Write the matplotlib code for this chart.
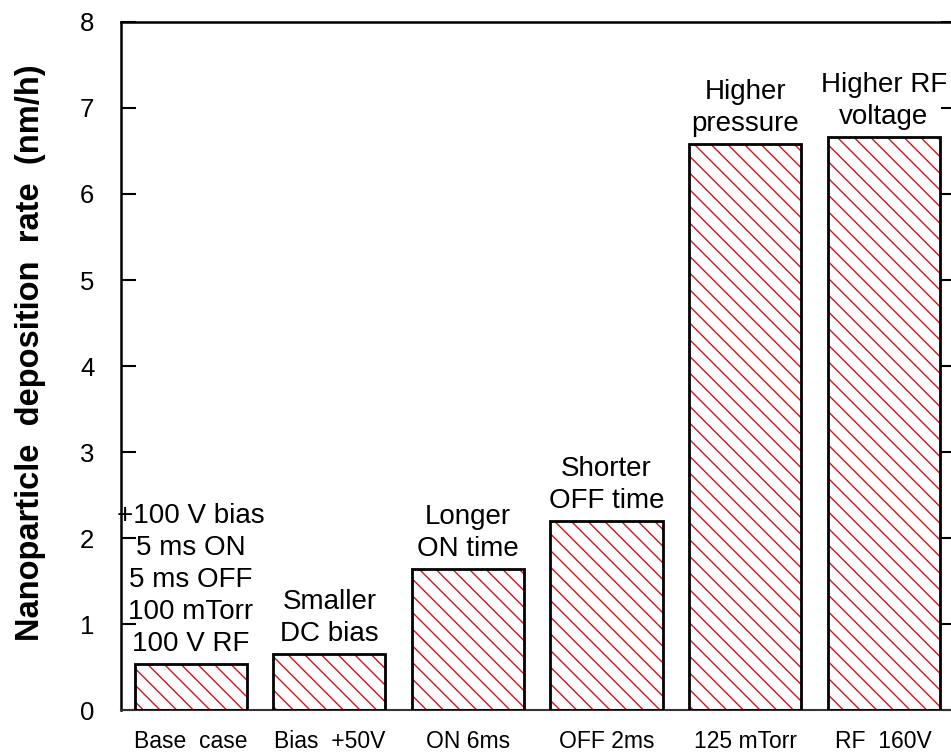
"""Bar chart of nanoparticle deposition rate for several process conditions."""

import matplotlib.pyplot as plt
import numpy as np

# ==============================================================================
# DATA
# ==============================================================================

conditions = ["Base  case", "Bias  +50V", "ON 6ms", "OFF 2ms", "125 mTorr", "RF  160V"]
rates = [0.54, 0.65, 1.64, 2.2, 6.58, 6.66]
notes = [
    "+100 V bias\n5 ms ON\n5 ms OFF\n100 mTorr\n100 V RF",
    "Smaller\nDC bias",
    "Longer\nON time",
    "Shorter\nOFF time",
    "Higher\npressure",
    "Higher RF\nvoltage",
]
y_ticks = [0, 1, 2, 3, 4, 5, 6, 7, 8]

# ==============================================================================
# STYLE
# ==============================================================================

HATCH_RED = "#d4141e"
plt.rcParams["font.family"] = ["Liberation Sans", "DejaVu Sans"]
plt.rcParams["hatch.linewidth"] = 1.0


def main() -> None:
    fig = plt.figure(figsize=(9.51, 7.54), dpi=100)
    ax = fig.add_axes([0.127, 0.058, 0.878, 0.913])

    x = np.arange(len(conditions))
    width = 0.81

    # hatch in red, outline in black (two passes)
    ax.bar(x, rates, width, color="white", edgecolor=HATCH_RED, hatch="\\\\",
           linewidth=0, zorder=2)
    ax.bar(x, rates, width, color="none", edgecolor="black", linewidth=2.0, zorder=3)

    for xi, val, note in zip(x, rates, notes):
        ax.annotate(note, (xi, val), xytext=(0, 5), textcoords="offset points",
                    ha="center", va="bottom", fontsize=20, linespacing=1.3)

    ax.set_xlim(-0.505, 5.52)
    ax.set_ylim(0, 8)
    ax.set_yticks(y_ticks)
    ax.set_xticks(x)
    ax.set_xticklabels(conditions, fontsize=16.5)
    ax.tick_params(axis="x", length=0, pad=14)
    ax.tick_params(axis="y", direction="in", length=11, width=1.5, pad=19,
                   labelsize=18.5, right=True)

    for side in ["left", "top", "right"]:
        ax.spines[side].set_linewidth(1.8)
    ax.spines["bottom"].set_linewidth(1.5)
    ax.spines["bottom"].set_color("#333333")

    ax.set_ylabel("Nanoparticle  deposition  rate  (nm/h)", fontsize=23.5,
                  fontweight="bold")
    ax.yaxis.set_label_coords(-0.09, 0.52)

    fig.savefig("out.png", dpi=100)
    plt.close(fig)


if __name__ == "__main__":
    main()
